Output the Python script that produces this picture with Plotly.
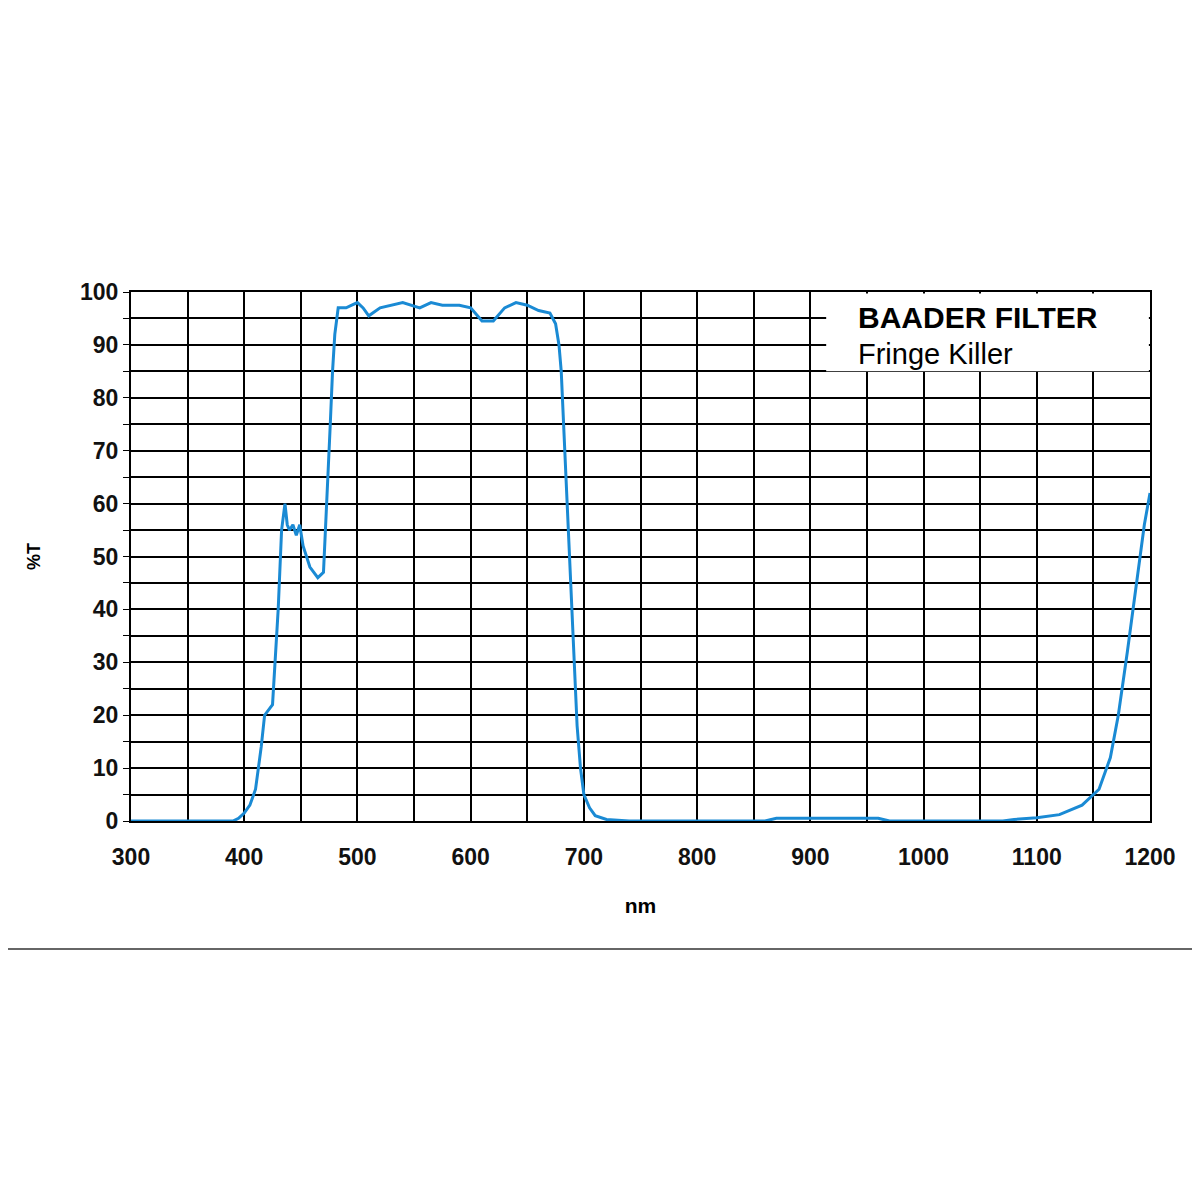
import plotly.graph_objs as go

wavelength = [300, 390, 395, 400, 405, 410, 415, 418, 425, 430, 433, 436, 438, 440, 443, 446, 449,
              452, 458, 465, 470, 473, 476, 478, 480, 483, 490, 495, 500, 505, 510, 520, 530,
              540, 555, 565, 575, 590, 600, 610, 620, 630, 640, 650, 660, 670, 675, 678, 680,
              683, 686, 689, 691, 694, 697, 700, 705, 710, 720, 740, 860, 870, 960, 970, 1070,
              1080, 1100, 1120, 1140, 1155, 1165, 1172, 1180, 1188, 1195, 1200]
transmission = [0, 0, 0.5, 1.5, 3, 6, 14, 20, 22, 40, 55, 60, 56, 55, 56, 54, 56,
                52, 48, 46, 47, 60, 75, 85, 92, 97, 97, 97.5, 98, 97, 95.5, 97, 97.5,
                98, 97, 98, 97.5, 97.5, 97, 94.5, 94.5, 97, 98, 97.5, 96.5, 96, 94, 90, 85,
                70, 55, 40, 30, 18, 10, 5, 2.5, 1, 0.3, 0, 0, 0.5, 0.5, 0, 0,
                0.3, 0.6, 1.2, 3, 6, 12, 20, 32, 45, 56, 62]

x_ticks = list(range(300, 1201, 100))
y_ticks = list(range(0, 101, 10))

fig = go.Figure(go.Scatter(x=wavelength, y=transmission, mode="lines",
                           line=dict(color="#1a8ad4", width=3), showlegend=False))

axis_font = dict(family="Liberation Sans, Arial", size=23, color="#111", weight="bold")
fig.update_layout(
    width=1200, height=1200,
    margin=dict(l=123, r=58, t=284, b=387),
    paper_bgcolor="white", plot_bgcolor="white",
    xaxis=dict(range=[300, 1200], tickvals=x_ticks, showgrid=True,
               gridcolor="black", gridwidth=2, zeroline=False,
               tickfont=axis_font, ticks="", showline=True, linecolor="black", linewidth=2,
               mirror=True, ticklabelstandoff=14,
               title=dict(text="nm", font=dict(family="Liberation Sans", size=21,
                                               color="black", weight="bold"), standoff=30)),
    yaxis=dict(range=[0, 100], tickvals=y_ticks, showgrid=True, gridcolor="black",
               gridwidth=2, zeroline=False, tickfont=axis_font, ticks="outside",
               ticklen=6, tickcolor="black", showline=True, linecolor="black", linewidth=2,
               mirror=True,
               title=dict(text="%T", font=dict(family="Liberation Sans", size=18,
                                               color="black", weight="bold"), standoff=35)),
)
# minor grid every 50 nm / 5 %
fig.update_xaxes(minor=dict(dtick=50, showgrid=True, gridcolor="black", gridwidth=2))
fig.update_yaxes(minor=dict(dtick=5, showgrid=True, gridcolor="black", gridwidth=2,
                            ticks="outside", ticklen=6, tickcolor="black"))

# legend box
fig.add_shape(type="rect", x0=914, x1=1199, y0=85, y1=99.7, xref="x", yref="y",
              fillcolor="white", line=dict(width=0), layer="above")
fig.add_annotation(x=940, y=95.2, xref="x", yref="y", xanchor="left", showarrow=False,
                   text="<b>BAADER FILTER</b>",
                   font=dict(family="Liberation Sans", size=30, color="black"))
fig.add_annotation(x=940, y=88.2, xref="x", yref="y", xanchor="left", showarrow=False,
                   text="Fringe Killer",
                   font=dict(family="Liberation Sans", size=29, color="black"))
# separating rule under the chart
fig.add_shape(type="line", xref="paper", yref="paper", x0=-0.2, x1=1.1,
              y0=-0.242, y1=-0.242, line=dict(color="#333", width=1.5))

fig.write_html("out.html")
